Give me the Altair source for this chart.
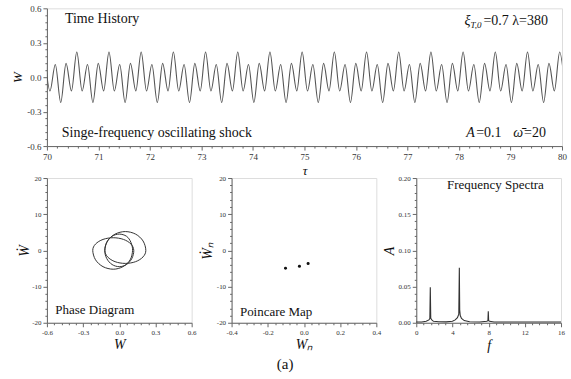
import altair as alt
import pandas as pd

FONT = "Liberation Serif"

# ---------------- Time history: extrema ----------------
tau = [69.955, 70.059, 70.163, 70.268, 70.372, 70.476,
       70.580, 70.684, 70.788, 70.893, 70.997, 71.101,
       71.205, 71.309, 71.413, 71.518, 71.622, 71.726,
       71.830, 71.934, 72.038, 72.143, 72.247, 72.351,
       72.455, 72.559, 72.663, 72.768, 72.872, 72.976,
       73.080, 73.184, 73.288, 73.393, 73.497, 73.601,
       73.705, 73.809, 73.913, 74.018, 74.122, 74.226,
       74.330, 74.434, 74.538, 74.643, 74.747, 74.851,
       74.955, 75.059, 75.163, 75.268, 75.372, 75.476,
       75.580, 75.684, 75.788, 75.893, 75.997, 76.101,
       76.205, 76.309, 76.413, 76.518, 76.622, 76.726,
       76.830, 76.934, 77.038, 77.143, 77.247, 77.351,
       77.455, 77.559, 77.663, 77.768, 77.872, 77.976,
       78.080, 78.184, 78.288, 78.393, 78.497, 78.601,
       78.705, 78.809, 78.913, 79.018, 79.122, 79.226,
       79.330, 79.434, 79.538, 79.643, 79.747, 79.851,
       79.955, 80.059]
w_val = [0.22, -0.12, 0.11, -0.22, 0.12, -0.12,
         0.22, -0.12, 0.11, -0.22, 0.12, -0.12,
         0.22, -0.12, 0.11, -0.22, 0.12, -0.12,
         0.22, -0.12, 0.11, -0.22, 0.12, -0.12,
         0.22, -0.12, 0.11, -0.22, 0.12, -0.12,
         0.22, -0.12, 0.11, -0.22, 0.12, -0.12,
         0.22, -0.12, 0.11, -0.22, 0.12, -0.12,
         0.22, -0.12, 0.11, -0.22, 0.12, -0.12,
         0.22, -0.12, 0.11, -0.22, 0.12, -0.12,
         0.22, -0.12, 0.11, -0.22, 0.12, -0.12,
         0.22, -0.12, 0.11, -0.22, 0.12, -0.12,
         0.22, -0.12, 0.11, -0.22, 0.12, -0.12,
         0.22, -0.12, 0.11, -0.22, 0.12, -0.12,
         0.22, -0.12, 0.11, -0.22, 0.12, -0.12,
         0.22, -0.12, 0.11, -0.22, 0.12, -0.12,
         0.22, -0.12, 0.11, -0.22, 0.12, -0.12,
         0.22, -0.12]

# ---------------- Phase diagram: closed loop (W, dW/dtau) ----------------
phase_w = [0.22, 0.197, 0.135, 0.05, -0.035, -0.097,
           -0.12, -0.104, -0.06, 0.0, 0.06, 0.096,
           0.11, 0.09, 0.03, -0.05, -0.135, -0.197,
           -0.22, -0.197, -0.135, -0.05, 0.035, 0.097,
           0.12, 0.104, 0.06, 0.0, -0.06, -0.104,
           -0.12, -0.097, -0.035, 0.05, 0.135, 0.197]
phase_wd = [0.0, -1.8, -3.12, -3.6, -3.12, -1.8,
            0.0, 2.25, 3.9, 4.5, 3.9, 2.25,
            0.0, -2.6, -4.5, -5.2, -4.5, -2.6,
            0.0, 1.75, 3.03, 3.5, 3.03, 1.75,
            0.0, -2.25, -3.9, -4.5, -3.9, -2.25,
            0.0, 2.6, 4.5, 5.2, 4.5, 2.6]

# ---------------- Poincare map ----------------
pc_w = [-0.102, -0.025, 0.023]
pc_wd = [-4.95, -4.4, -3.6]

# ---------------- Frequency spectrum ----------------
spec_f = [0.0, 0.6, 1.1, 1.40, 1.50, 1.55, 1.60, 1.72, 1.90, 2.5, 3.3, 4.0,
          4.30, 4.55, 4.70, 4.76, 4.80, 4.86, 5.00, 5.30, 5.9, 7.0, 7.80,
          7.92, 7.96, 8.00, 8.10, 8.6, 10.0, 12.0, 14.0, 16.0]
spec_a = [0.001, 0.001, 0.002, 0.004, 0.006, 0.049, 0.006, 0.004, 0.002, 0.0015, 0.0012, 0.002,
          0.004, 0.007, 0.012, 0.076, 0.018, 0.010, 0.006, 0.003, 0.0015, 0.001, 0.002,
          0.003, 0.016, 0.003, 0.002, 0.001, 0.001, 0.001, 0.001, 0.001]


def major_ticks(lo, hi, major):
    n = int(round((hi - lo) / major))
    return [round(lo + i * major, 6) for i in range(n + 1)]


def minor_ticks(lo, hi, major, nsub=5):
    step = major / nsub
    n = int(round((hi - lo) / step))
    return [round(lo + i * step, 6) for i in range(n + 1) if i % nsub != 0]


def make_axis(lo, hi, major, fmt, title, label_size, title_size, tx, ty, orient):
    return alt.Axis(
        values=major_ticks(lo, hi, major), orient=orient,
        labelExpr=f"replace(format(datum.value, '{fmt}'), '\u2212', '-')",
        tickSize=4, title=title, grid=False, labelOverlap=False, labelFlush=False,
        labelFont=FONT, labelFontSize=label_size, labelColor="#333", labelPadding=2,
        titleFont=FONT, titleFontSize=title_size, titleFontWeight="normal",
        titleFontStyle="italic", titleColor="#111",
        titleX=tx, titleY=ty, titleBaseline="middle", titleAlign="center",
        domainColor="#666", tickColor="#666",
    )


def minor_axis(lo, hi, major, orient):
    return alt.Axis(
        values=minor_ticks(lo, hi, major), orient=orient, labels=False, domain=False,
        tickSize=2, tickColor="#666", title=None, grid=False,
    )


def text_layer(df, xf, yf, size, italic=False, align="left", dx=0, dy=0):
    return alt.Chart(df).mark_text(
        font=FONT, fontSize=size, fontStyle="italic" if italic else "normal",
        align=align, baseline="middle", dx=dx, dy=dy, color="#111"
    ).encode(
        x=alt.X(f"{xf}:Q", axis=None),
        y=alt.Y(f"{yf}:Q", axis=None),
        text="t:N",
    )


def panel(mark_chart, df, xf, yf, xdom, ydom, xmaj, ymaj, xfmt, yfmt, xtitle, ytitle,
          lsize, tsize, w, h, xty, ytx, texts):
    main = mark_chart.encode(
        x=alt.X(f"{xf}:Q", scale=alt.Scale(domain=xdom, nice=False, zero=False),
                axis=make_axis(xdom[0], xdom[1], xmaj, xfmt, xtitle, lsize, tsize, w / 2, xty, "bottom")),
        y=alt.Y(f"{yf}:Q", scale=alt.Scale(domain=ydom, nice=False, zero=False),
                axis=make_axis(ydom[0], ydom[1], ymaj, yfmt, ytitle, lsize, tsize, ytx, h / 2, "left")),
    )
    minor = alt.Chart(df).mark_point(opacity=0).encode(
        x=alt.X(f"{xf}:Q", axis=minor_axis(xdom[0], xdom[1], xmaj, "bottom")),
        y=alt.Y(f"{yf}:Q", axis=minor_axis(ydom[0], ydom[1], ymaj, "left")),
    )
    return alt.layer(main, minor, *texts).resolve_axis(x="independent", y="independent").properties(
        width=w, height=h)


# ---------------- Top panel: time history ----------------
TW, TH = 516, 138
th_df = pd.DataFrame({"tau": tau, "W": w_val})
th_mark = alt.Chart(th_df).mark_line(interpolate="monotone", clip=True, color="#555", strokeWidth=1.1)

ann_top1 = pd.DataFrame({"tau": [70.35, 70.29], "W": [0.51, -0.485],
                         "t": ["Time History", "Singe-frequency oscillating shock"]})
xi_anchor = pd.DataFrame({"tau": [78.107], "W": [0.49], "t": ["ξ"]})
xi_sub = pd.DataFrame({"tau": [78.107], "W": [0.49], "t": ["T,0"]})
xi_rest = pd.DataFrame({"tau": [78.107], "W": [0.49], "t": ["=0.7  λ=380"]})
a_it = pd.DataFrame({"tau": [78.14], "W": [-0.485], "t": ["A"]})
a_rest = pd.DataFrame({"tau": [78.14], "W": [-0.485], "t": ["=0.1"]})
om = pd.DataFrame({"tau": [78.14], "W": [-0.485], "t": ["ω\u0304"]})
om_rest = pd.DataFrame({"tau": [78.14], "W": [-0.485], "t": ["=20"]})

top = panel(th_mark, th_df, "tau", "W", [70, 80], [-0.6, 0.6], 1, 0.3, "d", ".1f", "τ", "W",
            9, 13, TW, TH, 24, -29, [
                text_layer(ann_top1, "tau", "W", 14),
                text_layer(xi_anchor, "tau", "W", 14, italic=True),
                text_layer(xi_sub, "tau", "W", 9, italic=True, dx=6, dy=4),
                text_layer(xi_rest, "tau", "W", 14, dx=19),
                text_layer(a_it, "tau", "W", 14, italic=True),
                text_layer(a_rest, "tau", "W", 14, dx=10),
                text_layer(om, "tau", "W", 14, italic=True, dx=47),
                text_layer(om_rest, "tau", "W", 14, dx=58),
            ])

# ---------------- Bottom panels ----------------
PW, PH = 145, 145

ph_df = pd.DataFrame({"W": phase_w, "Wd": phase_wd, "i": list(range(len(phase_w)))})
ph_mark = alt.Chart(ph_df).mark_line(interpolate="cardinal-closed", color="#333", strokeWidth=1).encode(
    order="i:Q")
ph_ann = pd.DataFrame({"W": [-0.53], "Wd": [-16.6], "t": ["Phase Diagram"]})
phase = panel(ph_mark, ph_df, "W", "Wd", [-0.6, 0.6], [-20, 20], 0.3, 10, ".1f", "d", "W", "Ẇ",
              7, 14, PW, PH, 22, -22, [text_layer(ph_ann, "W", "Wd", 13)])

pc_df = pd.DataFrame({"Wn": pc_w, "Wnd": pc_wd})
pc_mark = alt.Chart(pc_df).mark_circle(size=9, color="#111", opacity=1)
pc_ann = pd.DataFrame({"Wn": [-0.354], "Wnd": [-17.1], "t": ["Poincare Map"]})
pc_lab = pd.DataFrame({"Wn": [-0.104], "Wnd": [-31.3], "t": ["(a)"]})
poincare = panel(pc_mark, pc_df, "Wn", "Wnd", [-0.4, 0.4], [-20, 20], 0.2, 10, ".1f", "d", "Wₙ", "Ẇₙ",
                 7, 14, PW, PH, 22, -24, [
                     text_layer(pc_ann, "Wn", "Wnd", 13),
                     text_layer(pc_lab, "Wn", "Wnd", 15, align="center"),
                 ])

sp_df = pd.DataFrame({"f": spec_f, "A": spec_a})
sp_mark = alt.Chart(sp_df).mark_line(color="#333", strokeWidth=1.1)
sp_ann = pd.DataFrame({"f": [14.1], "A": [0.191], "t": ["Frequency Spectra"]})
spectrum = panel(sp_mark, sp_df, "f", "A", [0, 16], [0, 0.2], 4, 0.05, "d", ".2f", "f", "A",
                 7, 14, PW, PH, 23, -27, [text_layer(sp_ann, "f", "A", 13, align="right")])

bottom = alt.hconcat(phase, poincare, spectrum, spacing=40, bounds="flush")

chart = alt.vconcat(top, bottom, spacing=32, bounds="flush").properties(
    padding={"left": 11, "top": 3, "right": 2, "bottom": 2}
).configure_view(stroke="#666", strokeWidth=1).configure(background="white")

chart.save("out.html", embed_options={"renderer": "svg", "actions": False})
